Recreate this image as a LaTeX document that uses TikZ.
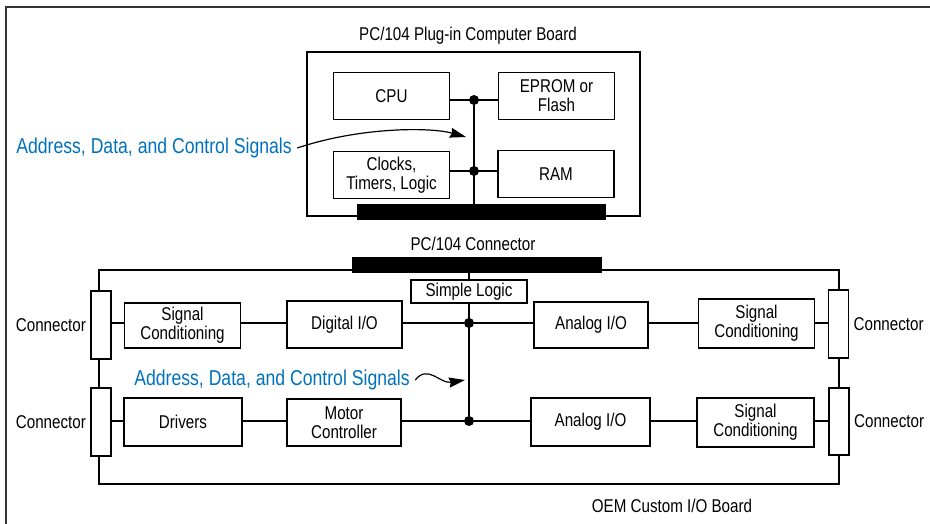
\documentclass[tikz,border=0pt]{standalone}
\usepackage{fontspec}
\setmainfont{Liberation Sans}[FakeStretch=0.82]
\usetikzlibrary{arrows.meta, positioning}
\definecolor{sigblue}{RGB}{0,114,188}

\begin{document}
\begin{tikzpicture}[
        x=1pt, y=-1pt,
        every node/.style={font=\fontsize{18.5}{19}\selectfont},
        box/.style={
            draw,
            rectangle,
            fill=white,
            line width=1.2pt,
            minimum width=116pt,
            minimum height=47pt,
            inner sep=0pt,
            align=center
        },
        board/.style={draw, rectangle, line width=1.3pt, inner sep=0pt},
        bar/.style={rectangle, fill=black, minimum width=250pt, minimum height=16pt, inner sep=0pt},
        plug/.style={draw, rectangle, fill=white, line width=1.2pt, minimum width=20pt, minimum height=68pt, inner sep=0pt},
        dot/.style={circle, fill=black, minimum size=10pt, inner sep=0pt},
        wire/.style={line width=1.3pt},
        arrow/.style={-{Stealth[length=16pt, width=10pt, inset=1.5pt]}, line width=1.2pt},
        signals/.style={text=sigblue, font=\fontsize{21.5}{23}\selectfont}
    ]
    \useasboundingbox (0,0) rectangle (930,524);

    % Page frame (open to the right and bottom)
    \draw[line width=2pt, black!80] (5.5,524) -- (5.5,7.5) -- (930,7.5);

    % Plug-in computer board
    \node[board, minimum width=333pt, minimum height=164pt] (cpuboard) at (473.5,134) {};
    \node (cpuboardlbl) at (468,36) {PC/104 Plug-in Computer Board};

    \node[box] (cpu)    at (391.5,96)  {CPU};
    \node[box] (eprom)  at (556.5,96)  {EPROM or\\Flash};
    \node[box] (clocks) at (391.5,175) {Clocks,\\Timers, Logic};
    \node[box] (ram)    at (556,174)   {RAM};

    \node[bar, minimum width=249pt] (cpubar) at (481.5,212) {};

    % Bus on the computer board
    \node[dot] (jcpu) at (474,100) {};
    \node[dot] (jclk) at (474,171) {};
    \draw[wire] (jcpu) -- (jcpu |- cpubar.north);
    \draw[wire] (cpu.east |- jcpu) -- (eprom.west |- jcpu);
    \draw[wire] (clocks.east |- jclk) -- (ram.west |- jclk);

    \node[signals] (busnote) at (154,148) {Address, Data, and Control Signals};
    \coordinate (busnotetip) at (466,137);
    \draw[arrow] ([xshift=2pt]busnote.east) .. controls (360,127) and (430,127) .. (busnotetip);

    % Custom I/O board
    \node[board, minimum width=740pt, minimum height=214pt] (ioboard) at (469,377) {};
    \node (ioboardlbl) at (672,506) {OEM Custom I/O Board};

    \node[bar] (iobar) at (477,265) {};
    \node (iobarlbl) at (473,244) {PC/104 Connector};

    \node[box, minimum height=23pt, line width=1.8pt] (logic) at (469,291.5) {Simple Logic};

    % Upper row
    \node[plug] (conL1) at (101,325) {};
    \node[box, minimum height=45pt] (sigL1) at (182.5,325.5) {Signal\\Conditioning};
    \node[box, minimum width=115pt] (dio) at (344.5,324.5) {Digital I/O};
    \node[box, minimum width=114pt, minimum height=46pt] (aio1) at (591,325) {Analog I/O};
    \node[box, minimum height=49pt] (sigR1) at (756.5,323.5) {Signal\\Conditioning};
    \node[plug] (conR1) at (838.5,324) {};

    % Lower row
    \node[plug] (conL2) at (101,422) {};
    \node[box, minimum width=118pt, minimum height=48pt] (drivers) at (183,422) {Drivers};
    \node[box, minimum width=114pt] (motor) at (344,422.5) {Motor\\Controller};
    \node[box, minimum width=119pt, minimum height=48pt] (aio2) at (590.5,422) {Analog I/O};
    \node[box, minimum width=117pt, minimum height=49pt] (sigR2) at (755.5,422.5) {Signal\\Conditioning};
    \node[plug, minimum height=67pt] (conR2) at (839,421.5) {};

    % Connector labels
    \node[left=1pt of conL1]  (conL1lbl) {Connector};
    \node[left=1pt of conL2]  (conL2lbl) {Connector};
    \node[right=1pt of conR1] (conR1lbl) {Connector};
    \node[right=1pt of conR2] (conR2lbl) {Connector};

    % Bus on the I/O board
    \node[dot] (jup) at (469,323) {};
    \node[dot] (jlo) at (469,421) {};
    \draw[wire] (logic.north |- iobar.south) -- (logic.north);
    \draw[wire] (logic.south) -- (jlo);

    \foreach \l/\r in {conL1/sigL1, sigL1/dio, dio/jup, jup/aio1, aio1/sigR1, sigR1/conR1}
        \draw[wire] (\l.east |- jup) -- (\r.west |- jup);
    \foreach \l/\r in {conL2/drivers, drivers/motor, motor/jlo, jlo/aio2, aio2/sigR2, sigR2/conR2}
        \draw[wire] (\l.east |- jlo) -- (\r.west |- jlo);

    \node[signals] (busnote2) at (272,380) {Address, Data, and Control Signals};
    \coordinate (busnote2tip) at (465,380);
    \draw[arrow] ([xshift=2pt]busnote2.east) .. controls (428,364) and (440,384) .. (busnote2tip);

\end{tikzpicture}
\end{document}
